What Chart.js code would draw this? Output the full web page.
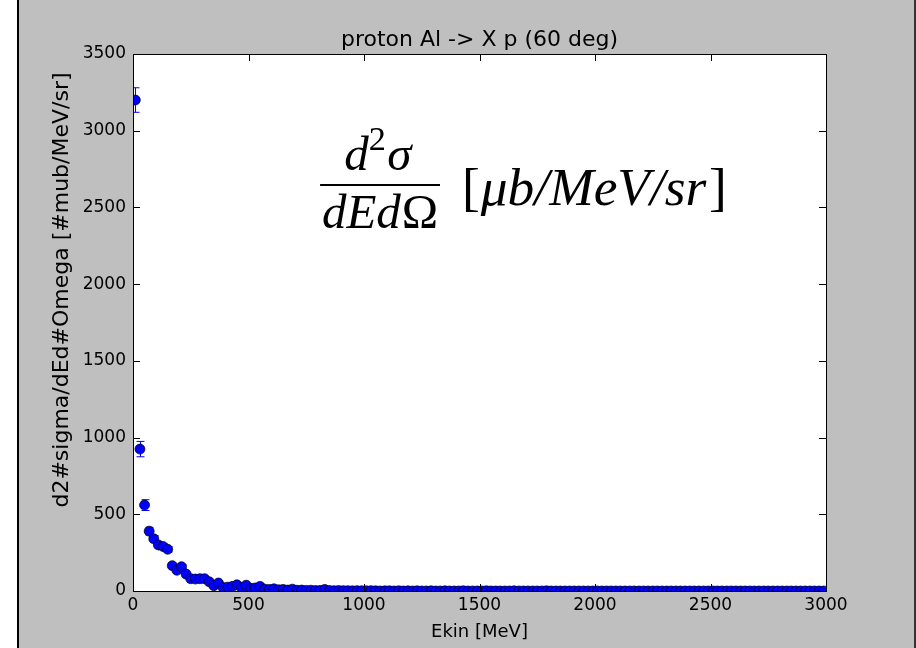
<!DOCTYPE html>
<html><head><meta charset="utf-8">
<script src="https://cdn.jsdelivr.net/npm/chart.js@4.4.0/dist/chart.umd.min.js"></script>
<style>
html,body{margin:0;padding:0;background:#fff;width:916px;height:648px;overflow:hidden}
#bg{position:absolute;left:17px;top:0;width:899px;height:648px;background:#bfbfbf;border-left:2px solid #000;border-right:2px solid #333;box-sizing:border-box}
#c{position:absolute;left:0;top:0}
</style></head><body>
<div id="bg"></div>
<canvas id="c" width="916" height="648"></canvas>
<script>
const chartTitle = 'proton Al -> X p (60 deg)';
const xAxisTitle = 'Ekin [MeV]';
const yAxisTitle = 'd2#sigma/dEd#Omega [#mub/MeV/sr]';

const energyMeV = [
  10,30,50,70,90,110,130,150,170,190,210,230,250,270,290,310,330,350,370,390,
  410,430,450,470,490,510,530,550,570,590,610,630,650,670,690,710,730,750,770,790,
  810,830,850,870,890,910,930,950,970,990,1010,1030,1050,1070,1090,1110,1130,1150,1170,1190,
  1210,1230,1250,1270,1290,1310,1330,1350,1370,1390,1410,1430,1450,1470,1490,1510,1530,1550,1570,1590,
  1610,1630,1650,1670,1690,1710,1730,1750,1770,1790,1810,1830,1850,1870,1890,1910,1930,1950,1970,1990,
  2010,2030,2050,2070,2090,2110,2130,2150,2170,2190,2210,2230,2250,2270,2290,2310,2330,2350,2370,2390,
  2410,2430,2450,2470,2490,2510,2530,2550,2570,2590,2610,2630,2650,2670,2690,2710,2730,2750,2770,2790,
  2810,2830,2850,2870,2890,2910,2930,2950,2970,2990
];
const crossSection = [
  3200,925,560,390,340,300,290,272,165,135,158,110,80,78,80,80,60,35,52,22,
  25,30,40,22,38,18,20,30,12,10,14,8,10,6,12,5,6,4,5,3,
  4,10,3,2,3,2,2,1,2,1,1,2,1,0,1,1,0,1,0,1,
  0,1,0,0,1,0,0,1,0,0,0,1,0,0,0,0,1,0,0,0,
  0,0,1,0,0,0,0,0,0,1,0,0,0,0,0,0,0,0,0,0,
  0,0,0,0,0,0,0,0,0,0,0,0,0,0,0,0,0,0,0,0,
  0,0,0,0,0,0,0,0,0,0,0,0,0,0,0,0,0,0,0,0,
  0,0,0,0,0,0,0,0,0,0
];
const crossSectionErr = [
  80,50,35,25,22,20,20,18,14,12,13,10,9,9,9,9,8,6,7,5,
  5,6,6,5,6,4,4,5,4,3,4,3,3,2,3,2,2,2,2,2,
  2,3,2,1,1,1,1,1,1,1,1,1,1,0,1,1,0,1,0,1,
  0,1,0,0,1,0,0,1,0,0,0,1,0,0,0,0,1,0,0,0,
  0,0,1,0,0,0,0,0,0,1,0,0,0,0,0,0,0,0,0,0,
  0,0,0,0,0,0,0,0,0,0,0,0,0,0,0,0,0,0,0,0,
  0,0,0,0,0,0,0,0,0,0,0,0,0,0,0,0,0,0,0,0,
  0,0,0,0,0,0,0,0,0,0
];
const xTickValues = [0,500,1000,1500,2000,2500,3000];
const yTickValues = [0,500,1000,1500,2000,2500,3000,3500];

// annotation anchor in data coordinates
const formulaAnchor = {numX:1060, numY:2744, barX0:810, barX1:1329, barY:2646, denY:2366, unitX:1424, unitX1:2571, unitY:2516};

const font = 'DejaVu Sans';
const serif = '"Liberation Serif", "DejaVu Serif", serif';

const plotBg = {
  id:'plotBg',
  beforeDraw(chart){
    const {ctx, chartArea:a} = chart;
    ctx.save(); ctx.fillStyle='#ffffff'; ctx.fillRect(a.left,a.top,a.width,a.height); ctx.restore();
  }
};

const titles = {
  id:'titles',
  afterDraw(chart){
    const {ctx, chartArea:a} = chart;
    ctx.save();
    ctx.fillStyle='#000';
    ctx.textAlign='center'; ctx.textBaseline='middle';
    ctx.font='normal 22px "'+font+'"';
    ctx.fillText(chartTitle, (a.left+a.right)/2, a.top-14);
    ctx.translate(62, a.top+236);
    ctx.rotate(-Math.PI/2);
    ctx.font='normal 22px "'+font+'"';
    ctx.fillText(yAxisTitle, 0, 0);
    ctx.restore();
  }
};

const errorBars = {
  id:'errorBars',
  beforeDatasetsDraw(chart){
    const {ctx, chartArea:a, scales:{x,y}} = chart;
    ctx.save();
    ctx.beginPath(); ctx.rect(a.left,a.top,a.width,a.height); ctx.clip();
    ctx.strokeStyle='#0000ff'; ctx.lineWidth=1;
    energyMeV.forEach((e,i)=>{
      const err = crossSectionErr[i];
      if(!err) return;
      const px = Math.round(x.getPixelForValue(e))+0.5;
      const lo = y.getPixelForValue(crossSection[i]-err);
      const hi = y.getPixelForValue(crossSection[i]+err);
      ctx.beginPath();
      ctx.moveTo(px,lo); ctx.lineTo(px,hi);
      ctx.moveTo(px-4,lo); ctx.lineTo(px+4,lo);
      ctx.moveTo(px-4,hi); ctx.lineTo(px+4,hi);
      ctx.stroke();
    });
    ctx.restore();
  }
};

const frameTicks = {
  id:'frameTicks',
  afterDraw(chart){
    const {ctx, chartArea:a, scales:{x,y}} = chart;
    ctx.save();
    ctx.strokeStyle='#000'; ctx.lineWidth=1;
    ctx.strokeRect(Math.round(a.left)+0.5, Math.round(a.top)+0.5, Math.round(a.width), Math.round(a.height));
    ctx.beginPath();
    const L=7;
    xTickValues.forEach(v=>{
      const px=Math.round(x.getPixelForValue(v))+0.5;
      ctx.moveTo(px,a.bottom); ctx.lineTo(px,a.bottom-L);
      ctx.moveTo(px,a.top); ctx.lineTo(px,a.top+L);
    });
    yTickValues.forEach(v=>{
      const py=Math.round(y.getPixelForValue(v))+0.5;
      ctx.moveTo(a.left,py); ctx.lineTo(a.left+L,py);
      ctx.moveTo(a.right,py); ctx.lineTo(a.right-L,py);
    });
    ctx.stroke();
    ctx.restore();
  }
};

// draw a sequence of text runs (italic / upright / superscript)
function runsWidth(ctx, runs, size){
  let w=0;
  runs.forEach(r=>{
    ctx.font=(r.it?'italic ':'normal ')+(size*(r.sc||1))+'px '+serif;
    w+=ctx.measureText(r.t).width + (r.gap||0)*size;
  });
  return w;
}
function drawRuns(ctx, runs, size, x0, base){
  let x=x0;
  runs.forEach(r=>{
    ctx.font=(r.it?'italic ':'normal ')+(size*(r.sc||1))+'px '+serif;
    ctx.fillText(r.t, x, base-(r.rise||0)*size);
    x+=ctx.measureText(r.t).width + (r.gap||0)*size;
  });
}

const formula = {
  id:'formula',
  afterDraw(chart){
    const {ctx, scales:{x,y}} = chart;
    const f = formulaAnchor;
    ctx.save();
    ctx.fillStyle='#000'; ctx.strokeStyle='#000';
    ctx.textAlign='left'; ctx.textBaseline='alphabetic';
    const numRuns=[{t:'d',it:true},{t:'2',sc:0.7,rise:0.4,gap:0.03},{t:'\u03C3',it:true}];
    const denRuns=[{t:'dEd',it:true,gap:0.02},{t:'\u03A9'}];
    const unitRuns=[{t:'[',gap:0.02},{t:'\u03BCb/MeV/sr',it:true,gap:0.05},{t:']'}];
    const barL = x.getPixelForValue(f.barX0), barR = x.getPixelForValue(f.barX1);
    const denSize = 48*(barR-barL)*0.97/runsWidth(ctx,denRuns,48);
    const dw = runsWidth(ctx,denRuns,denSize);
    drawRuns(ctx,denRuns,denSize,(barL+barR)/2-dw/2,y.getPixelForValue(f.denY));
    const nw = runsWidth(ctx,numRuns,denSize);
    drawRuns(ctx,numRuns,denSize,x.getPixelForValue(f.numX)-nw/2,y.getPixelForValue(f.numY));
    ctx.lineWidth=2;
    ctx.beginPath();
    const by = Math.round(y.getPixelForValue(f.barY));
    ctx.moveTo(barL,by); ctx.lineTo(barR,by); ctx.stroke();
    const ux0 = x.getPixelForValue(f.unitX), ux1 = x.getPixelForValue(f.unitX1);
    const uSize = 48*(ux1-ux0)/runsWidth(ctx,unitRuns,48);
    drawRuns(ctx,unitRuns,uSize,ux0,y.getPixelForValue(f.unitY));
    ctx.restore();
  }
};

new Chart(document.getElementById('c'), {
  type:'scatter',
  data:{
    datasets:[{
      data: energyMeV.map((e,i)=>({x:e, y:crossSection[i]})),
      pointRadius:5,
      pointHoverRadius:5,
      pointBackgroundColor:'#0000ff',
      pointBorderColor:'#000000',
      pointBorderWidth:0.7,
      showLine:false,
      clip:0
    }]
  },
  options:{
    responsive:false,
    animation:false,
    devicePixelRatio:1,
    events:[],
    layout:{padding:{left:0,right:90,top:54,bottom:0}},
    plugins:{
      legend:{display:false},
      tooltip:{enabled:false},
      title:{display:false}
    },
    scales:{
      x:{
        type:'linear', min:0, max:3000,
        afterFit(s){ s.height = 57; },
        afterBuildTicks(s){ s.ticks = xTickValues.map(v=>({value:v})); },
        ticks:{color:'#000', font:{family:font, size:17}, padding:4, maxRotation:0,
          callback:(v)=>String(v)},
        grid:{display:false, drawTicks:false},
        border:{display:true, color:'#000'},
        title:{display:true, text:xAxisTitle, color:'#000',
          font:{family:font, size:18}, padding:{top:0, bottom:5.2}}
      },
      y:{
        type:'linear', min:0, max:3500,
        afterFit(s){ s.width = 133; },
        afterBuildTicks(s){ s.ticks = yTickValues.map(v=>({value:v})); },
        ticks:{color:'#000', font:{family:font, size:17}, padding:7,
          callback:(v)=>String(v)},
        grid:{display:false, drawTicks:false},
        border:{display:true, color:'#000'},
        title:{display:false}
      }
    }
  },
  plugins:[plotBg, errorBars, frameTicks, formula, titles]
});
</script>
</body></html>
